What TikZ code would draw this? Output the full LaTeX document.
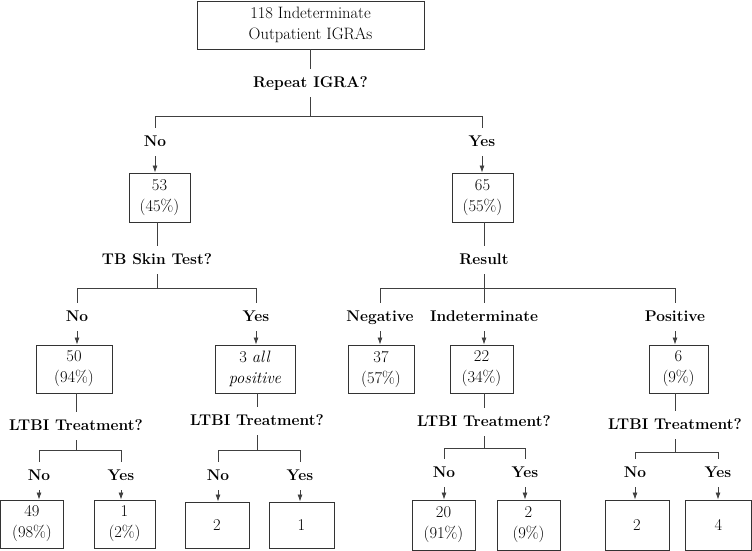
\documentclass[tikz,border=0pt]{standalone}
\usetikzlibrary{arrows.meta,positioning,calc}

\begin{document}
\begin{tikzpicture}[
    x=1pt, y=-1pt,
    countbox/.style={rectangle, draw=black!80, line width=0.9pt, align=center, inner sep=2pt, minimum height=48pt, font=\fontsize{16.5}{21}\selectfont},
    question/.style={font=\fontsize{15.5}{18}\selectfont\bfseries, inner sep=0pt, text height=11pt, text depth=3pt, minimum height=28pt},
    conn/.style={draw=black!75, line width=0.8pt},
    arrow/.style={conn, -{Latex[length=7pt,width=5pt]}}
]
    \useasboundingbox (0,0) rectangle (752,551);

    % Start
    \node[countbox, minimum width=227pt] (igra) at (310.5,25) {118 Indeterminate\\Outpatient IGRAs};
    \node[question] (repeat) at (310.5,83) {Repeat IGRA?};

    % Repeat IGRA branches
    \node[question] (rno) at (155,142) {No};
    \node[question] (ryes) at (482,142) {Yes};
    \node[countbox, minimum width=61pt, minimum height=49pt] (c53) at (159.5,197.5) {53\\(45\%)};
    \node[countbox, minimum width=61pt, minimum height=49pt] (c65) at (482.5,197.5) {65\\(55\%)};

    % Second level
    \node[question] (tst) at (157,260) {TB Skin Test?};
    \node[question] (result) at (484,260) {Result};
    \node[question] (tno) at (77,317) {No};
    \node[question] (tyes) at (256,317) {Yes};
    \node[question] (neg) at (380,317) {Negative};
    \node[question] (ind) at (484,317) {Indeterminate};
    \node[question] (pos) at (675,317) {Positive};
    \node[countbox, minimum width=76pt] (c50) at (74,369) {50\\(94\%)};
    \node[countbox, minimum width=80pt] (c3) at (255,369) {3 \textit{all}\\\textit{positive}};
    \node[countbox, minimum width=66pt] (c37) at (381,369) {37\\(57\%)};
    \node[countbox, minimum width=63pt] (c22) at (481.5,369) {22\\(34\%)};
    \node[countbox, minimum width=59pt] (c6) at (678.5,369) {6\\(9\%)};

    % LTBI treatment decisions
    \node[question] (ltbia) at (76,426) {LTBI Treatment?};
    \node[question] (ltbib) at (257,421) {LTBI Treatment?};
    \node[question] (ltbic) at (484,422) {LTBI Treatment?};
    \node[question] (ltbid) at (675,425) {LTBI Treatment?};
    \node[question] (ano) at (39,476) {No};
    \node[question] (ayes) at (121,476) {Yes};
    \node[question] (bno) at (218,476) {No};
    \node[question] (byes) at (300,476) {Yes};
    \node[question] (cno) at (444,473) {No};
    \node[question] (cyes) at (525,473) {Yes};
    \node[question] (dno) at (635,473) {No};
    \node[question] (dyes) at (718,473) {Yes};

    % Final counts
    \node[countbox, minimum width=63pt] (c49) at (32,524) {49\\(98\%)};
    \node[countbox, minimum width=61pt] (c1a) at (124.5,524) {1\\(2\%)};
    \node[countbox, minimum width=64pt, minimum height=46pt] (c2a) at (217,525) {2};
    \node[countbox, minimum width=65pt, minimum height=46pt] (c1b) at (301.5,525) {1};
    \node[countbox, minimum width=63pt, minimum height=50pt] (c20) at (443.5,525) {20\\(91\%)};
    \node[countbox, minimum width=63pt, minimum height=50pt] (c2b) at (528.5,525) {2\\(9\%)};
    \node[countbox, minimum width=64pt, minimum height=50pt] (c2c) at (637,525) {2};
    \node[countbox, minimum width=66pt, minimum height=50pt] (c4) at (718.5,525) {4};

    % Connectors
    \draw[conn] (igra.south) -- (repeat.north);
    \draw[conn] (repeat.south) -- ++(0,19) coordinate (jr) -| (rno.north);
    \draw[conn] (jr) -| (ryes.north);
    \draw[arrow] (rno.south) -- (rno.south |- c53.north);
    \draw[arrow] (ryes.south) -- (ryes.south |- c65.north);

    \draw[conn] (tst.north |- c53.south) -- (tst.north);
    \draw[conn] (tst.south) -- ++(0,14) coordinate (jt) -| (tno.north);
    \draw[conn] (jt) -| (tyes.north);
    \draw[arrow] (tno.south) -- (tno.south |- c50.north);
    \draw[arrow] (tyes.south) -- (tyes.south |- c3.north);

    \draw[conn] (result.north |- c65.south) -- (result.north);
    \draw[conn] (result.south) -- ++(0,14) coordinate (jres) -| (neg.north);
    \draw[conn] (jres) -| (pos.north);
    \draw[conn] (jres) -- (ind.north);
    \draw[arrow] (neg.south) -- (neg.south |- c37.north);
    \draw[arrow] (ind.south) -- (ind.south |- c22.north);
    \draw[arrow] (pos.south) -- (pos.south |- c6.north);

    \draw[conn] (ltbia.north |- c50.south) -- (ltbia.north);
    \draw[conn] (ltbia.south) -- ++(0,10) coordinate (ja) -| (ano.north);
    \draw[conn] (ja) -| (ayes.north);
    \draw[arrow] (ano.south) -- (ano.south |- c49.north);
    \draw[arrow] (ayes.south) -- (ayes.south |- c1a.north);

    \draw[conn] (ltbib.north |- c3.south) -- (ltbib.north);
    \draw[conn] (ltbib.south) -- ++(0,15) coordinate (jb) -| (bno.north);
    \draw[conn] (jb) -| (byes.north);
    \draw[arrow] (bno.south) -- (bno.south |- c2a.north);
    \draw[arrow] (byes.south) -- (byes.south |- c1b.north);

    \draw[conn] (ltbic.north |- c22.south) -- (ltbic.north);
    \draw[conn] (ltbic.south) -- ++(0,12) coordinate (jc) -| (cno.north);
    \draw[conn] (jc) -| (cyes.north);
    \draw[arrow] (cno.south) -- (cno.south |- c20.north);
    \draw[arrow] (cyes.south) -- (cyes.south |- c2b.north);

    \draw[conn] (ltbid.north |- c6.south) -- (ltbid.north);
    \draw[conn] (ltbid.south) -- ++(0,13) coordinate (jd) -| (dno.north);
    \draw[conn] (jd) -| (dyes.north);
    \draw[arrow] (dno.south) -- (dno.south |- c2c.north);
    \draw[arrow] (dyes.south) -- (dyes.south |- c4.north);
\end{tikzpicture}
\end{document}
